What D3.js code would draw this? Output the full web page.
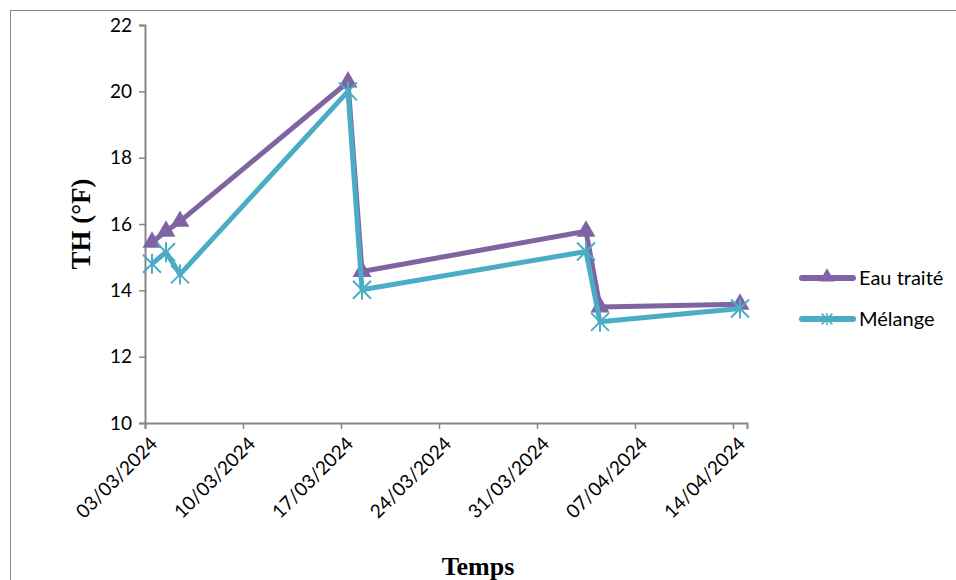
<!DOCTYPE html>
<html>
<head>
<meta charset="utf-8">
<script src="https://cdn.jsdelivr.net/npm/d3@7"></script>
<style>
  html, body { margin: 0; padding: 0; background: #fff; }
  svg { display: block; }
</style>
</head>
<body>
<svg id="chart" width="956" height="580"></svg>
<script>
// Sampling dates and total hardness (°F) for each water
const dates = ["03/03/2024", "04/03/2024", "05/03/2024", "17/03/2024", "18/03/2024", "03/04/2024", "04/04/2024", "14/04/2024"];
const eauTraite = [15.45, 15.78, 16.08, 20.28, 14.57, 15.78, 13.5, 13.58];
const melange = [14.8, 15.15, 14.48, 20.0, 14.02, 15.17, 13.05, 13.45];
const seriesNames = ["Eau traité", "Mélange"];
const xTickLabels = ["03/03/2024", "10/03/2024", "17/03/2024", "24/03/2024", "31/03/2024", "07/04/2024", "14/04/2024"];
const yTicks = [10, 12, 14, 16, 18, 20, 22];

const parse = d3.timeParse("%d/%m/%Y");
const fmt = d3.timeFormat("%d/%m/%Y");
const colors = ["#8064A2", "#4BACC6"];
const axisColor = "#868686";
const tickFont = "Lato, 'Open Sans', sans-serif";

const svg = d3.select("#chart");

// outer chart frame
svg.append("rect")
  .attr("x", 10.5).attr("y", 10.5)
  .attr("width", 1000).attr("height", 1000)
  .attr("fill", "none").attr("stroke", axisColor).attr("stroke-width", 1);

const plot = { left: 145, right: 747, top: 25, bottom: 423 };

const x = d3.scaleTime()
  .domain([parse("03/03/2024"), parse("15/04/2024")])
  .range([plot.left, plot.right]);
const y = d3.scaleLinear().domain([10, 22]).range([plot.bottom, plot.top]);

// each sample sits in the middle of its day
const px = s => x(d3.timeHour.offset(parse(s), 12));

// y axis
const yAxis = svg.append("g")
  .attr("transform", `translate(${plot.left},0)`)
  .call(d3.axisLeft(y).tickValues(yTicks).tickSize(6).tickPadding(7).tickFormat(d3.format("d")));
yAxis.select(".domain").attr("stroke", axisColor).attr("stroke-width", 2);
yAxis.selectAll(".tick line").attr("stroke", axisColor).attr("stroke-width", 1.5);
yAxis.selectAll(".tick text")
  .attr("fill", "#000").style("font-family", tickFont).style("font-size", "19px");

// x axis
const xAxis = svg.append("g")
  .attr("transform", `translate(0,${plot.bottom})`)
  .call(d3.axisBottom(x).tickValues(xTickLabels.map(parse)).tickSize(6).tickFormat(fmt));
xAxis.select(".domain").attr("stroke", axisColor).attr("stroke-width", 2);
xAxis.selectAll(".tick line").attr("stroke", axisColor).attr("stroke-width", 1.5);
xAxis.selectAll(".tick text")
  .attr("fill", "#000").style("font-family", tickFont).style("font-size", "19px")
  .attr("text-anchor", "end")
  .attr("dy", null)
  .attr("y", 0)
  .attr("transform", "translate(13,22) rotate(-45)");

// axis titles
svg.append("text")
  .attr("transform", "translate(90,224) rotate(-90)")
  .attr("text-anchor", "middle")
  .style("font-family", "'Liberation Serif', 'Times New Roman', serif")
  .style("font-weight", "bold").style("font-size", "27px")
  .text("TH (°F)");

svg.append("text")
  .attr("x", 478).attr("y", 575)
  .attr("text-anchor", "middle")
  .style("font-family", "'Liberation Serif', 'Times New Roman', serif")
  .style("font-weight", "bold").style("font-size", "26px")
  .text("Temps");

const line = d3.line().x(d => px(d.date)).y(d => y(d.v));
const series = [eauTraite, melange].map(vals =>
  vals.map((v, j) => ({ date: dates[j], v })));

const triangle = d3.symbol().type(d3.symbolTriangle).size(155);

function drawStar(g, cx, cy, r, color, w) {
  const k = r * 0.9;
  const d = `M${cx},${cy - r}L${cx},${cy + r}` +
    `M${cx - k},${cy - k}L${cx + k},${cy + k}` +
    `M${cx - k},${cy + k}L${cx + k},${cy - k}`;
  g.append("path").attr("d", d).attr("stroke", color).attr("stroke-width", w).attr("fill", "none");
}

series.forEach((data, i) => {
  const g = svg.append("g");
  g.append("path").datum(data)
    .attr("d", line)
    .attr("fill", "none")
    .attr("stroke", colors[i])
    .attr("stroke-width", 5)
    .attr("stroke-linejoin", "round");
  data.forEach(d => {
    if (i === 0) {
      g.append("path").attr("d", triangle)
        .attr("transform", `translate(${px(d.date)},${y(d.v)})`)
        .attr("fill", colors[i]);
    } else {
      drawStar(g, px(d.date), y(d.v), 10, colors[i], 2);
    }
  });
});

// legend
const legendRows = [{ y: 278 }, { y: 319 }];
seriesNames.forEach((name, i) => {
  const ly = legendRows[i].y;
  const g = svg.append("g");
  g.append("line").attr("x1", 802).attr("x2", 853).attr("y1", ly).attr("y2", ly)
    .attr("stroke", colors[i]).attr("stroke-width", 6).attr("stroke-linecap", "round");
  if (i === 0) {
    g.append("path").attr("d", d3.symbol().type(d3.symbolTriangle).size(100))
      .attr("transform", `translate(827,${ly - 1})`).attr("fill", colors[i]);
  } else {
    drawStar(g, 827, ly, 6, colors[i], 1.5);
  }
  g.append("text").attr("x", 859).attr("y", ly + 7)
    .style("font-family", tickFont).style("font-size", "20px")
    .attr("fill", "#000")
    .text(name);
});
</script>
</body>
</html>
